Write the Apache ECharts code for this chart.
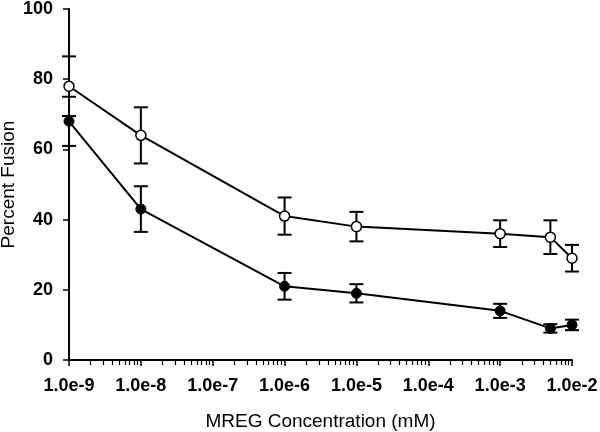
<!DOCTYPE html>
<html>
<head>
<meta charset="utf-8">
<script src="https://cdn.jsdelivr.net/npm/echarts@6/dist/echarts.min.js"></script>
<style>
  html, body { margin: 0; padding: 0; background: #fff; }
  #chart { width: 600px; height: 432px; }
</style>
</head>
<body>
<div id="chart"></div>
<script>
// concentrations (mM)
const concentrations = [1e-9, 1e-8, 1e-6, 1e-5, 1e-3, 5e-3, 1e-2]

// open circles
const openMean = [78, 64, 41, 38, 36, 35, 29]
const openErr = [8.5, 8, 5.3, 4.2, 3.8, 4.8, 3.8]

// filled circles
const filledMean = [68, 43, 21, 19, 14, 9, 10]
const filledErr = [7, 6.5, 3.8, 2.6, 2, 1.2, 1.5]

const yTicks = [0, 20, 40, 60, 80, 100]

const FONT = 'Liberation Sans, Arial, sans-serif'

function toPoints(means) {
  return concentrations.map((c, i) => [c, means[i]])
}

function toBars(means, errs) {
  return concentrations.map((c, i) => [c, means[i] - errs[i], means[i] + errs[i]])
}

function renderErrorBar(params, api) {
  const x = api.value(0)
  const lo = api.coord([x, api.value(1)])
  const hi = api.coord([x, api.value(2)])
  const half = 7
  const style = { stroke: '#000', lineWidth: 2 }
  return {
    type: 'group',
    children: [
      { type: 'line', shape: { x1: lo[0], y1: lo[1], x2: hi[0], y2: hi[1] }, style },
      { type: 'line', shape: { x1: lo[0] - half, y1: lo[1], x2: lo[0] + half, y2: lo[1] }, style },
      { type: 'line', shape: { x1: hi[0] - half, y1: hi[1], x2: hi[0] + half, y2: hi[1] }, style },
    ],
  }
}

const chart = echarts.init(document.getElementById('chart'))

chart.setOption({
  backgroundColor: '#fff',
  animation: false,
  grid: { left: 69, right: 28, top: 9, bottom: 72, outerBoundsMode: 'none', containLabel: false },
  xAxis: {
    type: 'log',
    logBase: 10,
    min: 1e-9,
    max: 1e-2,
    interval: 1,
    name: 'MREG Concentration (mM)',
    nameLocation: 'middle',
    nameGap: 52,
    nameTextStyle: { color: '#000', fontFamily: FONT, fontSize: 19 },
    axisLine: { lineStyle: { color: '#000', width: 2 } },
    axisTick: { inside: false, length: 6, lineStyle: { color: '#000', width: 1.5 } },
    minorTick: { show: true, splitNumber: 9, length: 5, lineStyle: { color: '#000', width: 1.2 } },
    splitLine: { show: false },
    axisLabel: {
      color: '#000',
      fontFamily: FONT,
      fontSize: 18,
      fontWeight: 'bold',
      margin: 17,
      formatter: (v) => '1.0e' + Math.round(Math.log10(v)),
    },
  },
  yAxis: {
    type: 'value',
    min: yTicks[0],
    max: yTicks[yTicks.length - 1],
    interval: 20,
    name: 'Percent Fusion',
    nameLocation: 'middle',
    nameGap: 51,
    nameMoveOverlap: false,
    nameTextStyle: { color: '#000', fontFamily: FONT, fontSize: 19 },
    axisLine: { show: true, lineStyle: { color: '#000', width: 2 } },
    axisTick: { show: true, inside: false, length: 6, lineStyle: { color: '#000', width: 1.5 } },
    splitLine: { show: false },
    axisLabel: {
      color: '#000',
      fontFamily: FONT,
      fontSize: 18,
      fontWeight: 'bold',
      margin: 16,
    },
  },
  series: [
    {
      type: 'custom',
      renderItem: renderErrorBar,
      encode: { x: 0, y: [1, 2] },
      data: toBars(openMean, openErr),
      z: 1,
    },
    {
      type: 'custom',
      renderItem: renderErrorBar,
      encode: { x: 0, y: [1, 2] },
      data: toBars(filledMean, filledErr),
      z: 1,
    },
    {
      type: 'line',
      data: toPoints(openMean),
      symbol: 'circle',
      symbolSize: 10,
      lineStyle: { color: '#000', width: 2 },
      itemStyle: { color: '#fff', borderColor: '#000', borderWidth: 1.5 },
      z: 3,
    },
    {
      type: 'line',
      data: toPoints(filledMean),
      symbol: 'circle',
      symbolSize: 10,
      lineStyle: { color: '#000', width: 2 },
      itemStyle: { color: '#000', borderColor: '#000', borderWidth: 1 },
      z: 3,
    },
  ],
})
</script>
</body>
</html>
